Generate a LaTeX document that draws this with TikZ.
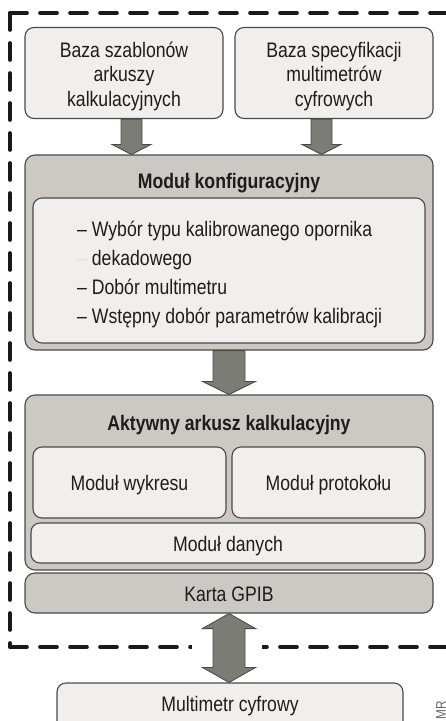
\documentclass[tikz,border=0pt]{standalone}
\usepackage{fontspec}
\setmainfont{Liberation Sans}[FakeStretch=0.84]
\usetikzlibrary{calc}
\definecolor{txt}{HTML}{1E1C1C}
\definecolor{edge}{HTML}{4A4A4A}
\definecolor{grayfill}{HTML}{CCC8C4}
\definecolor{lightfill}{HTML}{F0EFED}
\definecolor{arrowfill}{HTML}{7C7C76}
\definecolor{faint}{HTML}{E2E1DF}
\begin{document}
\begin{tikzpicture}[x=1pt,y=-1pt,
  lightbox/.style={draw=edge,line width=1.1pt,fill=lightfill,rounded corners=9pt,inner sep=0pt},
  graybox/.style={draw=edge,line width=1.1pt,fill=grayfill,rounded corners=10pt,inner sep=0pt},
  lbl/.style={text=txt,font=\fontsize{21}{24.5}\selectfont,inner sep=0pt,anchor=base},
  ttl/.style={text=txt,font=\fontsize{21}{24.5}\selectfont\bfseries,inner sep=0pt,anchor=base},
  item/.style={text=txt,font=\fontsize{21}{24.5}\selectfont,inner sep=0pt,anchor=base west},
  barrow/.style={draw=edge,line width=0.9pt,fill=arrowfill,line join=miter},
  outer/.style={line width=3.6pt,draw=black!90,dash pattern=on 17pt off 13pt,line cap=round}]
\useasboundingbox (0,0) rectangle (446,721);
\fill[white] (0,0) rectangle (446,721);
% dashed frame
\coordinate (fTL) at (10,13);
\coordinate (fTR) at (447.5,13);
\coordinate (fBL) at (10,647);
\coordinate (fBR) at (447.5,647);
\draw[outer] (fTL) -- (fTR);
\draw[outer] (fTL) -- (fBL);
\draw[outer] (fBL) -- (fBR);
\draw[outer] (fTR) -- (fBR);
\fill[white] (192,638) rectangle (262,656);
% top boxes
\node[lightbox,minimum width=198pt,minimum height=91pt] (b1) at (124,73) {};
\node[lightbox,minimum width=198pt,minimum height=91pt] (b2) at (334,73) {};
\node[lbl] (b1a) at (124,57) {Baza szablonów};
\node[lbl] (b1b) at (124,81.5) {arkuszy};
\node[lbl] (b1c) at (124,106) {kalkulacyjnych};
\node[lbl] (b2a) at (334,57) {Baza specyfikacji};
\node[lbl] (b2b) at (334,81.5) {multimetrów};
\node[lbl] (b2c) at (334,106) {cyfrowych};
% configuration module
\node[graybox,minimum width=408pt,minimum height=195pt] (konf) at (229,252.5) {};
\node[ttl] (konft) at (229,188) {Moduł konfiguracyjny};
\node[lightbox,minimum width=392pt,minimum height=145pt] (inner) at (229,270.5) {};
\node[item] (l1) at (77,236) {– Wybór typu kalibrowanego opornika};
\node[item] (l2) at (77,265) {\textcolor{faint}{–} dekadowego};
\node[item] (l3) at (77,294) {– Dobór multimetru};
\node[item] (l4) at (77,323) {– Wstępny dobór parametrów kalibracji};
% active spreadsheet
\node[graybox,minimum width=408pt,minimum height=175pt] (akt) at (229,482.5) {};
\node[ttl] (aktt) at (229,430) {Aktywny arkusz kalkulacyjny};
\node[lightbox,minimum width=193pt,minimum height=71pt] (wyk) at (129.5,482.5) {};
\node[lightbox,minimum width=193pt,minimum height=71pt] (prot) at (328.5,482.5) {};
\node[lbl] (wykt) at (129.5,490.5) {Moduł wykresu};
\node[lbl] (prott) at (328.5,490.5) {Moduł protokołu};
\node[lightbox,minimum width=394pt,minimum height=40pt] (dan) at (228,543) {};
\node[lbl] (dant) at (228,551.5) {Moduł danych};
% GPIB card
\node[graybox,minimum width=408pt,minimum height=40pt] (gpib) at (229,593) {};
\node[lbl] (gpibt) at (229,601.5) {Karta GPIB};
% multimeter
\node[lightbox,minimum width=346pt,minimum height=52pt] (multi) at (230,709) {};
\node[lbl] (multit) at (230,711.5) {Multimetr cyfrowy};
% block arrows: top
\coordinate (a1s) at ($(b1.south)+(7.5,0)$);
\coordinate (a1e) at (a1s |- konf.north);
\draw[barrow] ($(a1s)+(-10.5,0)$) -- ($(a1s)+(10.5,0)$) -- ($(a1e)+(10.5,-10)$) -- ($(a1e)+(19.5,-10)$) -- (a1e) -- ($(a1e)+(-19.5,-10)$) -- ($(a1e)+(-10.5,-10)$) -- cycle;
\coordinate (a2s) at ($(b2.south)+(-12.5,0)$);
\coordinate (a2e) at (a2s |- konf.north);
\draw[barrow] ($(a2s)+(-10.5,0)$) -- ($(a2s)+(10.5,0)$) -- ($(a2e)+(10.5,-10)$) -- ($(a2e)+(19.5,-10)$) -- (a2e) -- ($(a2e)+(-19.5,-10)$) -- ($(a2e)+(-10.5,-10)$) -- cycle;
% middle arrow
\coordinate (a3s) at (konf.south);
\coordinate (a3e) at (akt.north);
\draw[barrow] ($(a3s)+(-16,0)$) -- ($(a3s)+(16,0)$) -- ($(a3e)+(16,-13)$) -- ($(a3e)+(26.5,-13)$) -- (a3e) -- ($(a3e)+(-26.5,-13)$) -- ($(a3e)+(-16,-13)$) -- cycle;
% double arrow
\coordinate (a4s) at (gpib.south);
\coordinate (a4e) at (multi.north -| a4s);
\draw[barrow] (a4s) -- ($(a4s)+(26.5,15)$) -- ($(a4s)+(16,15)$) -- ($(a4e)+(16,-15)$) -- ($(a4e)+(26.5,-15)$) -- (a4e) -- ($(a4e)+(-26.5,-15)$) -- ($(a4e)+(-16,-15)$) -- ($(a4s)+(-16,15)$) -- ($(a4s)+(-26.5,15)$) -- cycle;
% side mark
\node[text=black!60,font=\fontsize{14}{14}\selectfont,inner sep=0pt,rotate=90,anchor=east] (mr) at (441,701) {MR};
\end{tikzpicture}
\end{document}
